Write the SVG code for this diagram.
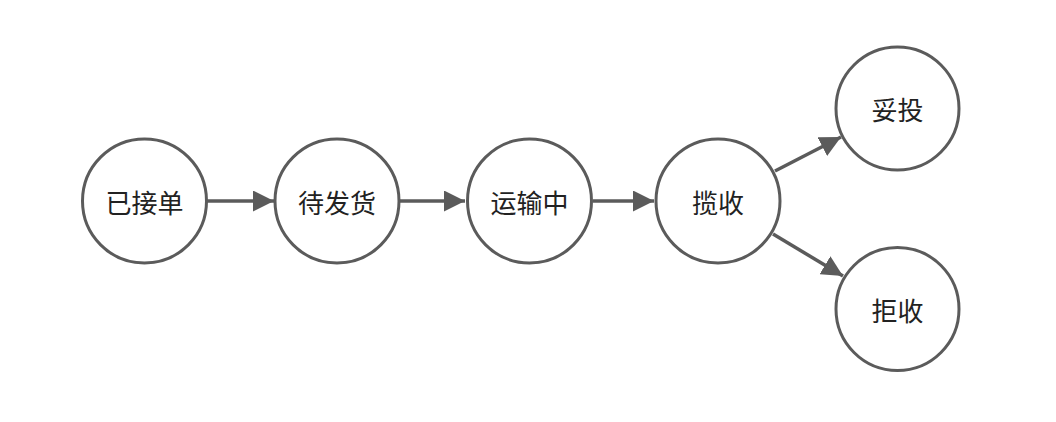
<svg xmlns="http://www.w3.org/2000/svg" width="1056" height="422" viewBox="0 0 1056 422">
<style>
.node circle{fill:#fff;stroke:#5b5b5b;stroke-width:3}
.node text{font-family:"Noto Sans CJK SC","Liberation Sans",sans-serif;font-size:26px;fill:#222;text-anchor:middle;dominant-baseline:central}
.edge{stroke:#5b5b5b;stroke-width:3.5;fill:none;marker-end:url(#ah)}
</style>
<defs>
<marker id="ah" viewBox="0 0 10 10" refX="10" refY="5" markerWidth="6" markerHeight="6" markerUnits="strokeWidth" orient="auto">
<path d="M0,0 L10,5 L0,10 z" fill="#5b5b5b"/>
</marker>
</defs>
<rect width="1056" height="422" fill="#fff"/>
<g id="connectors">
<line class="edge" x1="207" y1="201" x2="274" y2="201"/>
<line class="edge" x1="400" y1="201" x2="465" y2="201"/>
<line class="edge" x1="593" y1="201" x2="654" y2="201"/>
<line class="edge" x1="775" y1="171" x2="841" y2="137"/>
<line class="edge" x1="773" y1="234" x2="843" y2="276"/>
</g>
<g id="n1" class="node"><circle cx="144.5" cy="201" r="62"/><text x="144.5" y="201">已接单</text></g>
<g id="n2" class="node"><circle cx="337" cy="201" r="62"/><text x="337" y="201">待发货</text></g>
<g id="n3" class="node"><circle cx="529.5" cy="201" r="62"/><text x="529.5" y="201">运输中</text></g>
<g id="n4" class="node"><circle cx="718" cy="201" r="62"/><text x="718" y="201">揽收</text></g>
<g id="n5" class="node"><circle cx="897.5" cy="108.5" r="61.5"/><text x="897.5" y="108.5">妥投</text></g>
<g id="n6" class="node"><circle cx="897.5" cy="309" r="61.5"/><text x="897.5" y="309">拒收</text></g>
</svg>
